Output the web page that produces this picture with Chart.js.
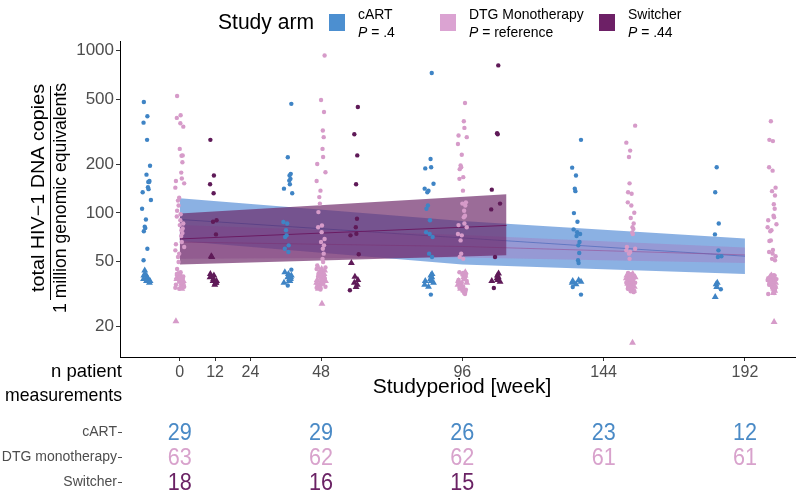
<!DOCTYPE html>
<html>
<head>
<meta charset="utf-8">
<script src="https://cdn.jsdelivr.net/npm/chart.js@4.4.1/dist/chart.umd.min.js"></script>
<style>
  html, body { margin: 0; padding: 0; background: #fff; overflow: hidden; }
</style>
</head>
<body>
<canvas id="chart" width="800" height="493"></canvas>
<script>
// Total HIV-1 DNA per study arm over the study period (log scale)

const visitWeeks = [0, 48, 96, 144, 192];
const xTickWeeks = [0, 12, 24, 48, 96, 144, 192];
const yTickValues = [20, 50, 100, 200, 500, 1000];

const armNames = ['cART', 'DTG Monotherapy', 'Switcher'];
const armPValues = ['.4', 'reference', '.44'];
const tableRowLabels = ['cART', 'DTG monotherapy', 'Switcher'];

// n patient measurements per visit
const cartCounts = [29, 29, 26, 23, 12];
const dtgCounts = [63, 62, 62, 61, 61];
const switcherCounts = [18, 16, 15, null, null];

// quantified measurements (dots), one list per visit
const cartDots = [
  [483, 394, 360, 282, 195, 172, 157, 155, 155, 144, 140, 134, 120, 106, 91, 82, 80.5, 77, 60, 51],
  [470, 220, 174, 170, 162, 158, 150, 141, 132, 87.7, 86, 78, 72.6, 71, 63, 60, 57.3, 44.6, 35.6],
  [729, 215, 191, 188, 151, 141, 137, 134, 111, 106, 90, 76, 74, 71, 56, 53.4, 31.3],
  [282, 190, 170, 141, 136, 99.6, 88, 79, 76, 74, 72, 66, 63, 56.5, 51, 49, 34.9, 31.3],
  [191, 134, 86, 73.6, 58.7, 54, 53.4, 33.8]
];
const dtgDots = [
  [526, 400, 385, 357, 340, 248, 226, 225, 205, 177, 163, 157, 152, 143, 124, 119, 111, 103, 98, 95, 90, 86, 84, 80, 78, 75, 72, 66, 64, 61.5, 58.7, 56, 53.4, 49.7, 45, 43, 42, 41.5, 40.5, 40, 39.5, 39, 38.5, 38, 37, 36, 35, 34.5, 34],
  [935, 497, 419, 322, 293, 248, 221, 200, 178, 157, 137, 125, 114, 101, 83.6, 81.5, 76, 69, 66, 63, 60, 56, 52, 49.7, 47.4, 46, 45, 44, 43, 42.5, 42, 41, 40.5, 40, 39.5, 39, 38.5, 38, 37.5, 37, 36.5, 36, 35, 34.5, 33.6],
  [476, 367, 334, 300, 293, 266, 228, 196, 191, 186, 166, 162, 137, 116, 114, 111, 103, 96, 94, 86, 84, 81.5, 74, 72.6, 67.6, 56, 53.4, 52, 43, 42.5, 42, 41.5, 41, 40.5, 40, 39.5, 39, 38.5, 38, 37.5, 37, 36.5, 36, 35.5, 35, 34.5, 34, 33.5, 33, 32.5, 32, 31.6],
  [345, 271, 242, 221, 152, 134, 131, 116, 111, 100, 93, 86, 81.5, 79.6, 75.7, 74, 61.5, 60, 58.7, 57.3, 56, 52, 42.6, 42, 41.5, 41, 40.5, 40, 39.5, 39, 39, 38.5, 38, 37.5, 37, 37, 36.5, 36, 35.5, 35, 34.5, 34, 33.5, 33, 32.8, 32.4],
  [367, 282, 277, 191, 182, 143, 136, 128, 113, 106, 96, 94, 90, 85, 81.5, 78, 77, 67.6, 67, 59, 57.3, 56, 54, 52, 51, 41.3, 41, 40.5, 40, 39.5, 39, 38.5, 38, 38, 37.5, 37, 36.5, 36, 35.5, 35, 34.5, 34, 33.5, 33, 32.5, 32, 31.6]
];
const switcherDots = [
  [282, 170, 150, 132, 90, 88, 73.6],
  [450, 305, 226, 150, 92, 81.5, 74.3, 72.6, 55.5, 33.3],
  [812, 310, 305, 139, 114, 105, 53.4, 34.4],
  null,
  null
];

// measurements below the limit (triangles), one list per visit
const cartLow = [
  [44, 42, 41, 40, 39, 39, 38, 38, 37],
  [43, 42, 41, 40, 40, 39, 39, 38, 38, 37],
  [42, 41, 40, 39, 38, 38, 37, 36, 35],
  [38.4, 38, 37.5, 37, 36.3],
  [37, 36.3, 34.9, 30.3]
];
const dtgLow = [
  [42, 41, 40, 39.5, 39, 38.5, 38, 37.5, 37, 36.5, 36, 35, 34, 21.4],
  [46, 45, 44, 43, 42, 41, 40.5, 40, 39, 38.5, 38, 37, 36.5, 36, 35, 34, 27.5],
  [43, 42, 41, 40, 39, 38, 37, 36, 35, 34],
  [42, 41, 40, 39.5, 39, 38.5, 38, 37.5, 37, 36.5, 36, 35, 34, 33, 15.8],
  [41, 40.5, 40, 39.5, 39, 38.5, 38, 37, 36, 35, 34, 33, 32, 21.2]
];
const switcherLow = [
  [54, 53.4, 42, 41, 40, 39, 38, 38, 37, 36, 37],
  [49, 40.4, 38.5, 37, 36, 34.9],
  [42.3, 41, 40, 39.5, 38.5, 38, 37.5],
  null,
  null
];

// fitted model with confidence band
const cartFitWeeks = [0, 96, 192];
const cartFit = [91, 70, 54];
const cartLower = [67, 48, 42];
const cartUpper = [123, 89, 69.5];

const dtgFitWeeks = [0, 96, 192];
const dtgFit = [66, 62, 55];
const dtgLower = [52, 53, 49];
const dtgUpper = [84, 73, 61];

const switcherFitWeeks = [0, 111];
const switcherFit = [69, 83.6];
const switcherLower = [48, 54.7];
const switcherUpper = [99, 130];

// ---- styling ----
const FONT = '"Liberation Sans", Arial, sans-serif';
const pointColors = ['#3f84c5', '#d69bc9', '#5f1a58'];
const swatchColors = ['#4c8fd0', '#dba3d2', '#6d2066'];
const tableColors = ['#4a8ac6', '#d8a2cc', '#6a2264'];

const dodge3 = [-11.3, 0, 11.3];
const dodge2 = [-9.2, 9.2];
const jitter = [-0.9, 0.6, -0.2, 1.2, -1.3, 0.3, 0.9, -0.6, 0.0, 1.5, -1.0, 0.5, -0.4, 1.0, -1.5, 0.2, 0.7];

function armOffset(arm, v) {
  return switcherDots[v] ? dodge3[arm] : dodge2[arm];
}

function scatterPoints(byVisit, arm, shift) {
  const out = [];
  byVisit.forEach((vals, v) => {
    if (!vals) return;
    vals.forEach((y, i) => {
      out.push({ x: visitWeeks[v] + armOffset(arm, v) + jitter[(i * 5 + shift + v * 3) % jitter.length], y });
    });
  });
  return out;
}

function curve(weeks, vals) {
  return weeks.map((w, i) => ({ x: w, y: vals[i] }));
}

function dots(byVisit, arm) {
  return { data: scatterPoints(byVisit, arm, 0), pointStyle: 'circle', pointRadius: 2.2, backgroundColor: pointColors[arm], borderWidth: 0, order: 0 };
}
function tris(byVisit, arm) {
  return { data: scatterPoints(byVisit, arm, 7), pointStyle: 'triangle', pointRadius: 4, backgroundColor: pointColors[arm], borderWidth: 0, order: 0 };
}
function edge(weeks, vals, order, fillColor) {
  return {
    type: 'line', data: curve(weeks, vals), showLine: true, borderColor: 'rgba(0,0,0,0)', borderWidth: 1,
    pointRadius: 0, tension: 0, fill: fillColor ? '-1' : false, backgroundColor: fillColor || 'rgba(0,0,0,0)', order
  };
}
function centre(weeks, vals, order, color) {
  return { type: 'line', data: curve(weeks, vals), showLine: true, borderColor: color, borderWidth: 1, pointRadius: 0, tension: 0, fill: false, order };
}

const datasets = [
  dots(cartDots, 0), tris(cartLow, 0),
  dots(dtgDots, 1), tris(dtgLow, 1),
  dots(switcherDots, 2), tris(switcherLow, 2),
  centre(switcherFitWeeks, switcherFit, 1, '#6a1b63'),
  edge(switcherFitWeeks, switcherUpper, 2),
  edge(switcherFitWeeks, switcherLower, 2, 'rgba(107,38,103,0.68)'),
  centre(dtgFitWeeks, dtgFit, 3, 'rgba(150,80,150,0.6)'),
  edge(dtgFitWeeks, dtgUpper, 4),
  edge(dtgFitWeeks, dtgLower, 4, 'rgba(168,108,183,0.35)'),
  centre(cartFitWeeks, cartFit, 5, '#3d7dc8'),
  edge(cartFitWeeks, cartUpper, 6),
  edge(cartFitWeeks, cartLower, 6, 'rgba(61,125,208,0.6)')
];

// draw text, optionally squeezed/stretched to a given width
function put(ctx, text, x, y, size, color, align, opts) {
  opts = opts || {};
  ctx.save();
  ctx.font = (opts.italic ? 'italic ' : '') + size + 'px ' + FONT;
  let sx = opts.sx || 1;
  if (opts.width) sx = opts.width / ctx.measureText(text).width;
  ctx.translate(x, y);
  if (opts.rotate) ctx.rotate(opts.rotate);
  ctx.scale(sx, 1);
  ctx.fillStyle = color;
  ctx.textAlign = align || 'left';
  ctx.textBaseline = opts.base || 'alphabetic';
  ctx.fillText(text, 0, 0);
  ctx.restore();
}

const decorations = {
  id: 'decorations',
  afterDraw(chart) {
    const ctx = chart.ctx;
    const xs = chart.scales.x;

    // legend
    put(ctx, 'Study arm', 218, 29, 22, '#000', 'left', { width: 96 });
    const legendX = [329, 440, 599];
    const legendSx = 0.93;
    armNames.forEach((name, i) => {
      ctx.fillStyle = swatchColors[i];
      ctx.fillRect(legendX[i], 14, 16, 17);
      const tx = legendX[i] + 29;
      put(ctx, name, tx, 19, 15, '#000', 'left', { sx: legendSx });
      ctx.font = 'italic 15px ' + FONT;
      const pw = ctx.measureText('P').width * legendSx;
      put(ctx, 'P', tx, 37, 15, '#000', 'left', { italic: true, sx: legendSx });
      put(ctx, ' = ' + armPValues[i], tx + pw, 37, 15, '#000', 'left', { sx: legendSx });
    });

    // y axis title as a fraction
    put(ctx, 'total HIV\u22121 DNA copies', 44, 188, 18, '#000', 'center', { rotate: -Math.PI / 2, width: 208 });
    put(ctx, '1 million genomic equivalents', 66, 198, 18, '#000', 'center', { rotate: -Math.PI / 2, width: 230 });
    ctx.save();
    ctx.strokeStyle = '#000';
    ctx.lineWidth = 1;
    ctx.beginPath();
    ctx.moveTo(50.5, 86);
    ctx.lineTo(50.5, 300);
    ctx.stroke();
    ctx.restore();

    // x axis title
    put(ctx, 'Studyperiod [week]', 462, 393, 21, '#000', 'center');

    // patient table
    put(ctx, 'n patient', 122, 377, 19, '#000', 'right', { width: 71 });
    put(ctx, 'measurements', 122, 401, 19, '#000', 'right', { width: 117 });
    const rowY = [432, 457, 482];
    const counts = [cartCounts, dtgCounts, switcherCounts];
    tableRowLabels.forEach((label, r) => {
      put(ctx, label, 117, rowY[r], 14, '#4d4d4d', 'right', { base: 'middle' });
      ctx.save();
      ctx.strokeStyle = '#4d4d4d';
      ctx.beginPath();
      ctx.moveTo(118, rowY[r] + 0.5);
      ctx.lineTo(122, rowY[r] + 0.5);
      ctx.stroke();
      ctx.restore();
      counts[r].forEach((n, i) => {
        if (n === null) return;
        put(ctx, String(n), xs.getPixelForValue(visitWeeks[i]), rowY[r] + 1, 24, tableColors[r], 'center', { base: 'middle', sx: 0.9 });
      });
    });
  }
};

new Chart(document.getElementById('chart'), {
  type: 'scatter',
  data: { datasets },
  options: {
    responsive: false,
    animation: false,
    events: [],
    layout: { padding: { top: 41, right: 5, bottom: 0, left: 0 } },
    plugins: { legend: { display: false }, tooltip: { enabled: false } },
    scales: {
      x: {
        type: 'linear',
        min: -20.3,
        max: 209,
        afterBuildTicks: s => { s.ticks = xTickWeeks.map(v => ({ value: v })); },
        afterFit: s => { s.height = 136; },
        grid: { display: true, drawOnChartArea: false, drawTicks: true, tickLength: 4, color: '#333' },
        border: { display: true, color: '#000', width: 1 },
        ticks: { font: { family: FONT, size: 16 }, color: '#4d4d4d', padding: 2, maxRotation: 0, autoSkip: false, callback: v => String(v) }
      },
      y: {
        type: 'logarithmic',
        min: 12.9,
        max: 1148,
        afterBuildTicks: s => { s.ticks = yTickValues.map(v => ({ value: v })); },
        afterFit: s => { s.width = 120; },
        grid: { display: true, drawOnChartArea: false, drawTicks: true, tickLength: 4, color: '#333' },
        border: { display: true, color: '#000', width: 1 },
        ticks: { font: { family: FONT, size: 17 }, color: '#4d4d4d', padding: 2, autoSkip: false, callback: v => String(v) }
      }
    }
  },
  plugins: [decorations]
});
</script>
</body>
</html>
